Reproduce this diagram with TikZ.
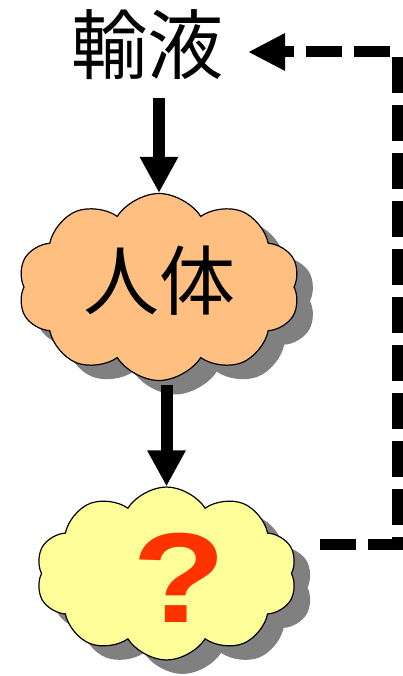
\documentclass[tikz,border=0pt]{standalone}
\usepackage{fontspec}
\newfontfamily\jpfont{Noto Sans CJK JP}
\newfontfamily\qfont{Liberation Sans}
\usetikzlibrary{shapes.symbols,arrows.meta}
\definecolor{orangecloud}{HTML}{FFBF80}
\definecolor{yellowcloud}{HTML}{FFFF99}
\definecolor{shadowgray}{HTML}{808080}
\definecolor{qred}{HTML}{FF3300}
\begin{document}
\begin{tikzpicture}[x=1pt,y=-1pt,
  cloudbox/.style={cloud, cloud puffs=10, cloud puff arc=115, aspect=1.5, inner sep=0pt, line width=1.2pt, draw=black},
  shadowbox/.style={cloudbox, fill=shadowgray, draw=none},
  jptext/.style={font=\jpfont\fontsize{76}{80}\selectfont, inner sep=0pt},
  bigarrow/.style={line width=12pt, -{Triangle[length=36pt,width=36pt]}},
  dasharrow/.style={line width=11pt, dash pattern=on 36pt off 12pt, line join=miter, -{Triangle[length=37pt,width=35pt]}}
]
\useasboundingbox (0,0) rectangle (403,676);
% shadows
\node[shadowbox, minimum width=282pt, minimum height=187pt] (jintaishadow) at (175,301) {};
\node[shadowbox, minimum width=261pt, minimum height=173pt] (hatenashadow) at (182.5,587.5) {};
% clouds
\node[cloudbox, fill=orangecloud, minimum width=282pt, minimum height=187pt] (jintai) at (159,287) {};
\node[cloudbox, fill=yellowcloud, minimum width=261pt, minimum height=173pt] (hatena) at (166.5,573.5) {};
% texts
\node[jptext] (yueki) at (147,45) {輸液};
\node[jptext] (jintaitext) at (159,281) {人体};
\node[font=\qfont\bfseries\fontsize{128}{134}\selectfont, text=qred, inner sep=0pt, xscale=1.2] (q) at (179,578) {?};
% arrows
\draw[bigarrow] ([yshift=-53pt]yueki.center -| jintai.north) -- (jintai.north);
\draw[bigarrow] ([yshift=-4pt]jintai.south -| hatena.north) -- (hatena.north);
% dashed feedback
\coordinate (d0) at (320,544);
\coordinate (d1) at (397,544);
\coordinate (d2) at (397,52);
\coordinate (d3) at (248,52);
\draw[dasharrow] (d0) -- (d1) -- (d2) -- (d3);
\end{tikzpicture}
\end{document}
